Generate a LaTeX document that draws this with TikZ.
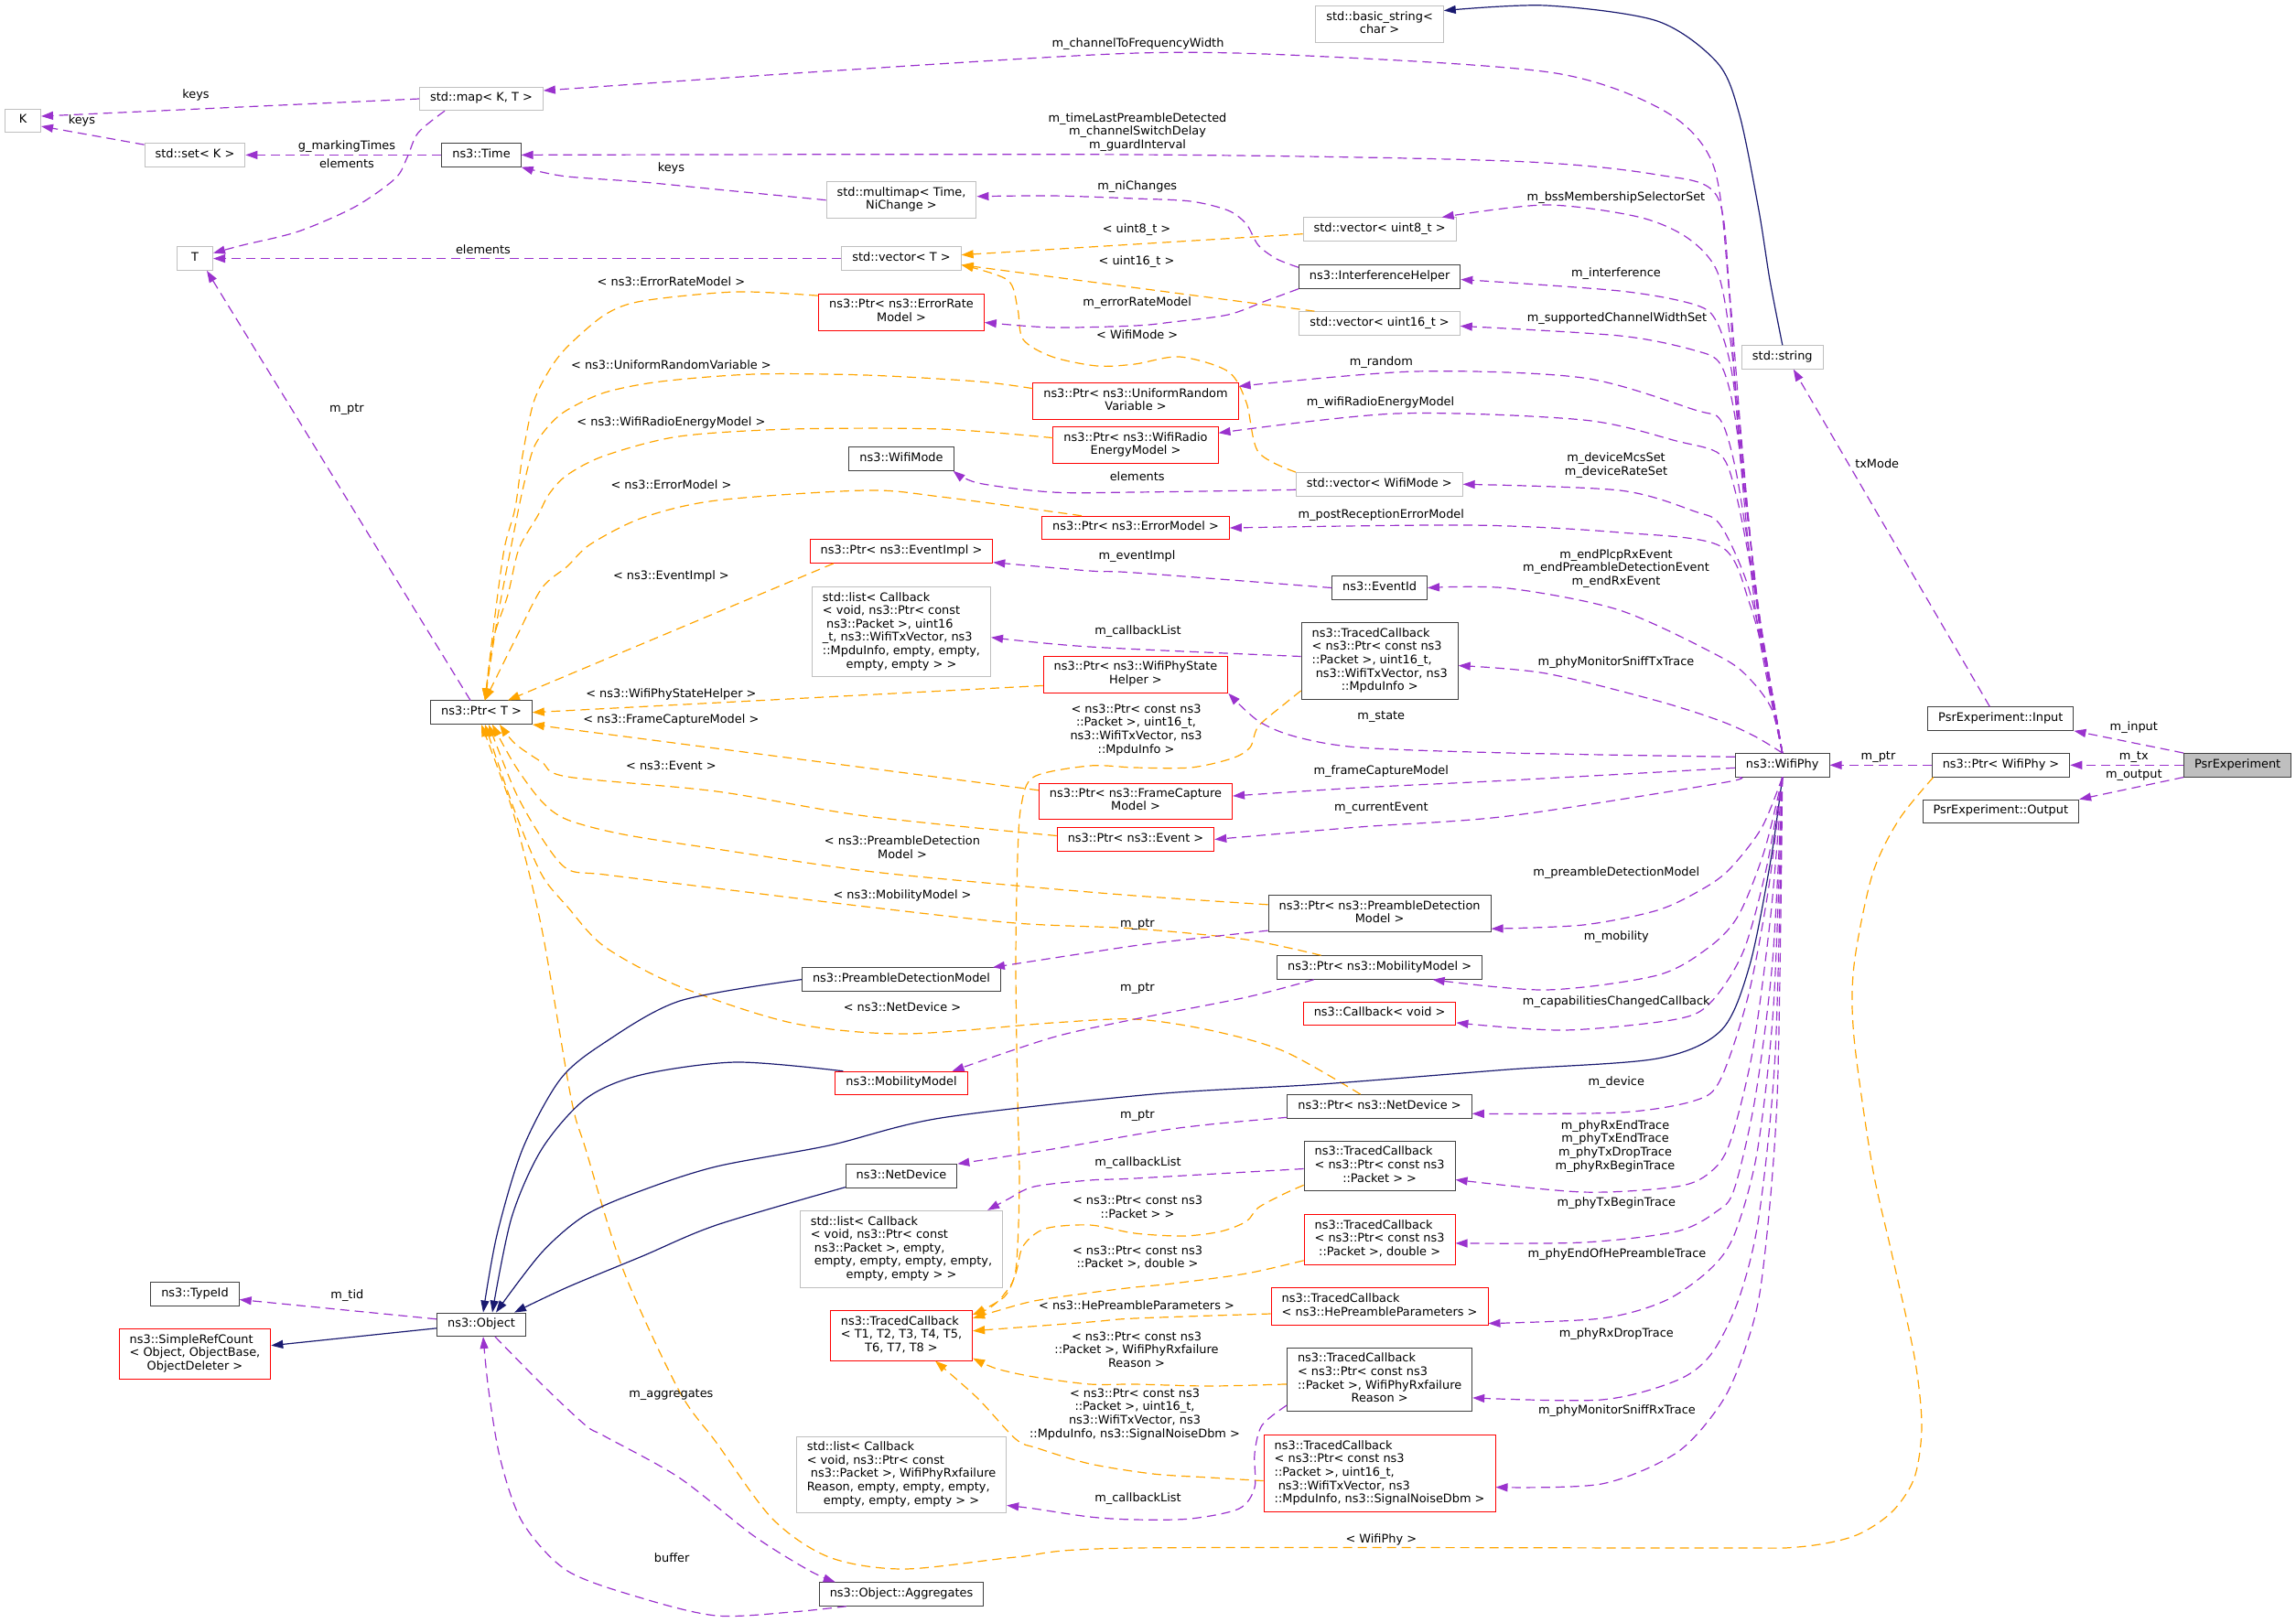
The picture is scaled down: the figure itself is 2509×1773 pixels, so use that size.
\documentclass[tikz,border=0pt]{standalone}
\usepackage{fontspec}
\setmainfont{DejaVu Sans}
\usetikzlibrary{arrows.meta}

\definecolor{usecol}{HTML}{9A32CD}
\definecolor{tplcol}{HTML}{FFA500}
\definecolor{inhcol}{HTML}{191970}
\definecolor{extcol}{HTML}{BFBFBF}
\definecolor{doccol}{HTML}{404040}

\newcommand{\dfont}{\fontsize{12.9}{14.6}\selectfont}
% left aligned lines, last line centred
\newcommand{\llines}[2]{\begin{tabular}{@{}l@{}}#1\\\multicolumn{1}{@{}c@{}}{#2}\end{tabular}}

\tikzset{
    cls/.style={draw=doccol, fill=white, line width=1pt, font=\dfont, align=center,
        inner xsep=11.5pt, inner ysep=5.45pt, minimum width=39pt,
        execute at begin node=\strut, execute at end node=\strut},
    doc/.style={cls},
    ext/.style={cls, draw=extcol},
    trunc/.style={cls, draw=red},
    focus/.style={cls, fill=extcol},
    memb/.style={draw=usecol, line width=1.2pt, dash pattern=on 10pt off 6pt,
        -{Triangle[length=13pt,width=9pt]}},
    tmpl/.style={memb, draw=tplcol},
    inh/.style={draw=inhcol, line width=1.2pt, -{Triangle[length=13pt,width=9pt]}},
    lbl/.style={font=\dfont, inner sep=0pt, align=center,
        execute at begin node=\strut, execute at end node=\strut},
}

\begin{document}
\begin{tikzpicture}[x=1pt, y=-1pt]
    \useasboundingbox (0,0) rectangle (2509,1773);

    % left column
    \node[ext] (kk) at (25,132) {K};
    \node[ext] (smap) at (526,108) {std::map< K, T >};
    \node[ext] (sset) at (213,169.4) {std::set< K >};
    \node[doc] (ntime) at (526,169.4) {ns3::Time};
    \node[ext] (tparam) at (213,282.6) {T};
    \node[doc] (ptrT) at (526,778.7) {ns3::Ptr< T >};
    \node[doc] (obj) at (526,1447.8) {ns3::Object};
    \node[doc] (tid) at (213,1414.5) {ns3::TypeId};
    \node[trunc] (src) at (213,1479.7) {\llines{ns3::SimpleRefCount\\< Object, ObjectBase,}{ObjectDeleter >}};

    % middle column
    \node[ext] (mmap) at (985,218.7) {std::multimap< Time,\\NiChange >};
    \node[ext] (vecT) at (985,282.6) {std::vector< T >};
    \node[trunc] (perr) at (985,341.4) {ns3::Ptr< ns3::ErrorRate\\Model >};
    \node[doc] (wmode) at (985,501.4) {ns3::WifiMode};
    \node[trunc] (pevi) at (985,602.7) {ns3::Ptr< ns3::EventImpl >};
    \node[ext] (lista) at (985,690.7) {\llines{std::list< Callback\\< void, ns3::Ptr< const\\\ ns3::Packet >, uint16\\\_t, ns3::WifiTxVector, ns3\\::MpduInfo, empty, empty,}{empty, empty > >}};
    \node[doc] (pdm) at (985,1070.6) {ns3::PreambleDetectionModel};
    \node[trunc] (mob) at (985,1184) {ns3::MobilityModel};
    \node[doc] (ndev) at (985,1285.4) {ns3::NetDevice};
    \node[ext] (listb) at (985,1365.3) {\llines{std::list< Callback\\< void, ns3::Ptr< const\\\ ns3::Packet >, empty,\\\ empty, empty, empty, empty,}{empty, empty > >}};
    \node[trunc] (tcT) at (985,1459.7) {\llines{ns3::TracedCallback\\< T1, T2, T3, T4, T5,}{T6, T7, T8 >}};
    \node[ext] (listc) at (985,1612) {\llines{std::list< Callback\\< void, ns3::Ptr< const\\\ ns3::Packet >, WifiPhyRxfailure\\Reason, empty, empty, empty,}{empty, empty, empty > >}};
    \node[doc] (agg) at (985,1742.5) {ns3::Object::Aggregates};

    \node[trunc] (prand) at (1241,438.6) {ns3::Ptr< ns3::UniformRandom\\Variable >};
    \node[trunc] (pradio) at (1241,486.6) {ns3::Ptr< ns3::WifiRadio\\EnergyModel >};
    \node[trunc] (perrm) at (1241,577) {ns3::Ptr< ns3::ErrorModel >};
    \node[trunc] (pstate) at (1241,737.4) {ns3::Ptr< ns3::WifiPhyState\\Helper >};
    \node[trunc] (pfc) at (1241,876) {ns3::Ptr< ns3::FrameCapture\\Model >};
    \node[trunc] (pev) at (1241,917.5) {ns3::Ptr< ns3::Event >};

    % members of WifiPhy
    \node[ext] (bstr) at (1507.6,26.6) {std::basic\_string<\\char >};
    \node[ext] (v8) at (1507.6,250.7) {std::vector< uint8\_t >};
    \node[doc] (ih) at (1507.6,302.5) {ns3::InterferenceHelper};
    \node[ext] (v16) at (1507.6,353.4) {std::vector< uint16\_t >};
    \node[ext] (vwm) at (1507.3,529.3) {std::vector< WifiMode >};
    \node[doc] (eid) at (1507.6,642.5) {ns3::EventId};
    \node[doc] (tc5) at (1507.7,722.5) {\llines{ns3::TracedCallback\\< ns3::Ptr< const ns3\\::Packet >, uint16\_t,\\\ ns3::WifiTxVector, ns3}{::MpduInfo >}};
    \node[doc] (ppd) at (1507.6,998.8) {ns3::Ptr< ns3::PreambleDetection\\Model >};
    \node[doc] (pmm) at (1507.6,1057.5) {ns3::Ptr< ns3::MobilityModel >};
    \node[trunc] (cb) at (1507.6,1107.9) {ns3::Callback< void >};
    \node[doc] (pnd) at (1507.6,1209.3) {ns3::Ptr< ns3::NetDevice >};
    \node[doc] (tc3) at (1507.6,1274.5) {\llines{ns3::TracedCallback\\< ns3::Ptr< const ns3}{::Packet > >}};
    \node[trunc] (tcd) at (1507.6,1354.9) {\llines{ns3::TracedCallback\\< ns3::Ptr< const ns3}{::Packet >, double >}};
    \node[trunc] (tchp) at (1507.6,1428) {\llines{ns3::TracedCallback}{< ns3::HePreambleParameters >}};
    \node[doc] (tcrx) at (1507.6,1507.9) {\llines{ns3::TracedCallback\\< ns3::Ptr< const ns3\\::Packet >, WifiPhyRxfailure}{Reason >}};
    \node[trunc] (tcsn) at (1507.6,1610.6) {\llines{ns3::TracedCallback\\< ns3::Ptr< const ns3\\::Packet >, uint16\_t,\\\ ns3::WifiTxVector, ns3}{::MpduInfo, ns3::SignalNoiseDbm >}};

    % right part
    \node[ext] (str) at (1947.8,390.4) {std::string};
    \node[doc] (wp) at (1947.7,836.3) {ns3::WifiPhy};
    \node[doc] (inp) at (2186.3,785.6) {PsrExperiment::Input};
    \node[doc] (pwp) at (2186.5,836.3) {ns3::Ptr< WifiPhy >};
    \node[doc] (pout) at (2186.3,886.9) {PsrExperiment::Output};
    \node[focus] (pe) at (2445.2,836.3) {PsrExperiment};

    % K, T and time
    \draw[memb] (smap.west) -- ([yshift=5pt]kk.east);
    \draw[memb] ([yshift=-2pt]sset.north west) -- ([yshift=-6pt]kk.east);
    \draw[memb] (ntime.west) -- (sset.east);
    \draw[memb] plot[smooth] coordinates {([xshift=-40pt]smap.south) (457,145) (445,172) (432,195) (388,226) (326,253) (265,268) ([yshift=6pt]tparam.east)};
    \draw[memb] (vecT.west) -- (tparam.east);
    \draw[memb] ([xshift=-12pt]ptrT.north) -- ([xshift=13pt]tparam.south);
    \draw[memb] plot[smooth] coordinates {(mmap.west) (783,207) (702,199) (620,193) (583,186) (ntime.south east)};

    % std::vector< T >
    \draw[tmpl] ([yshift=-5pt]v8.west) -- ([yshift=4pt]vecT.east);
    \draw[tmpl] ([xshift=17pt]v16.north west) -- ([yshift=-7pt]vecT.east);
    \draw[tmpl] plot[smooth] coordinates {(vwm.north west) (1375,494) (1362,440) (1342,406) (1289,390) (1240,398) (1199,400) (1150,390) (1118,371) (1112,337) (1101,306) ([yshift=-7pt]vecT.east)};

    % ns3::Ptr< T >
    \draw[tmpl] plot[smooth] coordinates {([yshift=-2pt]perr.north west) (804,319) (702,329) (661,344) (620,379) (600,405) (583,440) (571,498) (563,555) (551,600) (540,680) ([xshift=4pt]ptrT.north)};
    \draw[tmpl] plot[smooth] coordinates {([yshift=14pt]prand.west) (1069,417) (946,410) (824,409) (722,417) (661,429) (620,448) (600,465) (583,490) (571,536) (560,590) (543,679) ([xshift=4pt]ptrT.north)};
    \draw[tmpl] plot[smooth] coordinates {([yshift=8pt]pradio.west) (1028,469) (865,469) (742,477) (661,498) (620,519) (600,540) (588,563) (567,600) (555,650) (539,699) ([xshift=4pt]ptrT.north)};
    \draw[tmpl] plot[smooth] coordinates {([xshift=44pt]perrm.north west) (1028,543) (946,536) (783,547) (702,566) (645,595) (620,619) (592,643) (563,699) ([xshift=4pt]ptrT.north)};
    \draw[tmpl] ([xshift=26pt]pevi.south west) -- ([xshift=29pt]ptrT.north);
    \draw[tmpl] ([yshift=-12pt]pstate.west) -- (ptrT.east);
    \draw[tmpl] ([yshift=-8pt]pfc.north west) -- (ptrT.south east);
    \draw[tmpl] plot[smooth] coordinates {([yshift=4pt]pev.west) (946,892) (783,865) (620,849) (592,833) (563,813) ([xshift=20pt]ptrT.south)};
    \draw[tmpl] plot[smooth] coordinates {([yshift=10pt]ppd.west) (1240,979) (1110,968) (946,952) (783,928) (681,912) (620,896) (592,876) (563,837) ([xshift=12pt]ptrT.south)};
    \draw[tmpl] plot[smooth] coordinates {([xshift=-64pt]pmm.north) (1362,1027) (1240,1015) (1110,1009) (946,991) (783,971) (661,956) (620,950) (592,916) (563,865) ([xshift=8pt]ptrT.south)};
    \draw[tmpl] plot[smooth] coordinates {([xshift=-21pt]pnd.north) (1403,1149) (1322,1126) (1240,1114) (1150,1118) (987,1130) (865,1118) (742,1078) (661,1035) (620,991) (592,956) (563,888) ([xshift=4pt]ptrT.south)};
    \draw[tmpl] plot[smooth] coordinates {([xshift=2pt]pwp.south west) (2075,896) (2046,956) (2026,1055) (2026,1134) (2046,1275) (2067,1369) (2092,1483) (2100,1558) (2092,1615) (2067,1653) (2026,1679) (1964,1691) (1860,1692) (1240,1692) (1110,1702) (987,1715) (906,1702) (844,1660) (783,1577) (742,1520) (681,1388) (640,1256) (624,1200) (592,1015) (563,896) (543,837) (ptrT.south)};

    % ns3::TracedCallback< T1 ... T8 >
    \draw[tmpl] plot[smooth] coordinates {([yshift=10pt]tc5.south west) (1403,770) (1375,794) (1366,817) (1346,829) (1301,839) (1240,839) (1191,837) (1130,849) (1116,880) (1112,936) (1110,1055) (1112,1200) (1114,1294) (1110,1388) (1097,1415) (1081,1430) ([yshift=-5pt]tcT.north east)};
    \draw[tmpl] plot[smooth] coordinates {([yshift=7pt]tc3.south west) (1403,1305) (1375,1320) (1362,1335) (1334,1346) (1293,1351) (1240,1348) (1191,1339) (1142,1343) (1118,1362) (1110,1392) (1097,1418) ([yshift=-5pt]tcT.north east)};
    \draw[tmpl] plot[smooth] coordinates {([yshift=5pt]tcd.south west) (1362,1392) (1281,1403) (1240,1407) (1191,1413) (1130,1422) (1089,1433) ([yshift=-9pt]tcT.north east)};
    \draw[tmpl] plot[smooth] coordinates {([yshift=-8pt]tchp.west) (1240,1441) (1191,1445) ([yshift=5pt]tcT.east)};
    \draw[tmpl] plot[smooth] coordinates {([yshift=-5pt]tcrx.west) (1322,1515) (1240,1513) (1191,1513) (1130,1505) (1089,1496) ([yshift=3pt]tcT.south east)};
    \draw[tmpl] plot[smooth] coordinates {([yshift=-8pt]tcsn.west) (1322,1615) (1260,1611) (1191,1600) (1134,1583) (1110,1573) (1068,1528) ([xshift=37pt]tcT.south)};

    % other members in the middle
    \draw[memb] plot[smooth] coordinates {([yshift=-3pt]ih.north west) (1395,283) (1375,268) (1362,245) (1342,230) (1301,220) (1240,217) (1150,214) ([yshift=4pt]mmap.east)};
    \draw[memb] plot[smooth] coordinates {(ih.south west) (1383,329) (1342,344) (1281,352) (1240,356) (1150,358) ([yshift=-11pt]perr.east)};
    \draw[memb] plot[smooth] coordinates {([yshift=-6pt]vwm.west) (1240,538) (1150,538) (1069,528) ([xshift=-1pt]wmode.south east)};
    \draw[memb] plot[smooth] coordinates {(eid.west) (1240,626) (1191,624) ([yshift=-12pt]pevi.east)};
    \draw[memb] plot[smooth] coordinates {([yshift=5pt]tc5.west) (1191,707) ([yshift=-6pt]lista.east)};
    \draw[memb] plot[smooth] coordinates {([yshift=2pt]ppd.south west) (1260,1031) (1191,1041) ([xshift=-9pt]pdm.north east)};
    \draw[memb] plot[smooth] coordinates {([xshift=-72pt]pmm.south) (1362,1090) (1240,1114) (1150,1134) ([xshift=-17pt]mob.north east)};
    \draw[memb] plot[smooth] coordinates {([yshift=-12pt]pnd.west) (1322,1229) (1260,1237) (1150,1256) (ndev.north east)};
    \draw[memb] plot[smooth] coordinates {([yshift=-3pt]tc3.west) (1240,1288) (1191,1290) (1130,1297) (1101,1311) ([xshift=-17pt]listb.north east)};
    \draw[memb] plot[smooth] coordinates {([yshift=7pt]tcrx.south west) (1379,1558) (1371,1589) (1371,1626) (1354,1649) (1301,1660) (1240,1661) (1191,1658) (1130,1649) ([yshift=9pt]listc.south east)};

    % ns3::Object
    \draw[memb] ([yshift=6pt]obj.west) -- ([yshift=-6pt]tid.east);
    \draw[memb] plot[smooth] coordinates {([xshift=15pt]obj.south) (592,1513) (640,1558) (661,1570) (742,1615) (824,1679) (885,1717) ([xshift=18pt]agg.north west)};
    \draw[memb] plot[smooth] coordinates {([xshift=30pt]agg.south west) (865,1762) (783,1766) (702,1747) (620,1717) (571,1664) (547,1596) (534,1520) ([xshift=2pt]obj.south)};
    \draw[inh] ([yshift=-4pt]obj.west) -- ([yshift=9pt]src.east);
    \draw[inh] plot[smooth] coordinates {(pdm.west) (743,1094) (660,1140) (612,1180) (571,1256) (543,1350) ([xshift=2pt]obj.north)};
    \draw[inh] plot[smooth] coordinates {([xshift=9pt]mob.north west) (804,1161) (700,1175) (640,1201) (592,1256) (559,1331) ([xshift=12pt]obj.north)};
    \draw[inh] plot[smooth] coordinates {([yshift=1pt]ndev.south west) (783,1339) (702,1373) (620,1407) ([xshift=36pt]obj.north)};
    \draw[inh] plot[smooth] coordinates {(wp.south) (1935,940) (1912,1055) (1881,1126) (1811,1157) (1648,1169) (1444,1185) (1260,1196) (1028,1222) (906,1252) (783,1275) (702,1301) (640,1328) (592,1369) ([xshift=16pt]obj.north)};
    \draw[inh] plot[smooth] coordinates {(str.north) (1934,306) (1922,230) (1901,126) (1877,69) (1811,23) (1689,6) ([yshift=15pt]bstr.east)};

    % WifiPhy, upper members
    \draw[memb] plot[smooth] coordinates {(wp.north) (1920,680) (1900,480) (1888,300) (1872,180) (1820,122) (1700,80) (1450,62) (1243,58) (900,78) ([yshift=9pt]smap.east)};
    \draw[memb] plot[smooth] coordinates {(wp.north) (1922,680) (1903,480) (1890,320) (1876,214) (1811,191) (1648,176) (1240,169) (ntime.east)};
    \draw[memb] plot[smooth] coordinates {(wp.north) (1924,690) (1906,520) (1892,380) (1877,298) (1844,260) (1790,237) (1689,224) ([xshift=-16pt]v8.north east)};
    \draw[memb] plot[smooth] coordinates {(wp.north) (1926,700) (1907,540) (1893,410) (1876,352) (1852,333) (1770,318) ([yshift=-3pt]ih.east)};
    \draw[memb] plot[smooth] coordinates {(wp.north) (1927,705) (1909,560) (1895,450) (1880,398) (1852,383) (1770,367) ([yshift=-3pt]v16.east)};
    \draw[memb] plot[smooth] coordinates {(wp.north) (1929,712) (1911,600) (1896,510) (1880,459) (1852,448) (1730,413) (1546,406) ([yshift=-4pt]prand.north east)};
    \draw[memb] plot[smooth] coordinates {(wp.north) (1930,720) (1913,620) (1897,540) (1880,497) (1832,482) (1730,459) (1526,452) ([yshift=-7pt]pradio.north east)};
    \draw[memb] plot[smooth] coordinates {(wp.north) (1932,735) (1910,640) (1880,574) (1852,559) (1770,536) (vwm.east)};
    \draw[memb] plot[smooth] coordinates {(wp.north) (1934,745) (1912,660) (1880,597) (1770,582) (1607,574) (perrm.east)};
    \draw[memb] plot[smooth] coordinates {(wp.north) (1936,775) (1912,742) (1880,718) (1770,667) (1648,643) (eid.east)};
    \draw[memb] plot[smooth] coordinates {(wp.north) (1918,805) (1880,788) (1811,766) (1689,736) ([yshift=-5pt]tc5.east)};
    \draw[memb] plot[smooth] coordinates {([yshift=9pt]wp.west) (1648,823) (1485,817) (1415,805) (1375,788) (pstate.south east)};
    \draw[memb] plot[smooth] coordinates {([yshift=-3pt]wp.west) (1648,853) (1485,861) ([yshift=6pt]pfc.east)};
    \draw[memb] plot[smooth] coordinates {([xshift=5pt]wp.south west) (1880,856) (1648,892) (1485,904) (pev.east)};

    % WifiPhy, lower members
    \draw[memb] plot[smooth] coordinates {(wp.south) (1925,905) (1890,950) (1860,972) (1811,995) (1730,1011) ([yshift=4pt]ppd.south east)};
    \draw[memb] plot[smooth] coordinates {(wp.south) (1928,930) (1900,1000) (1868,1035) (1811,1066) (1689,1082) ([xshift=58pt]pmm.south)};
    \draw[memb] plot[smooth] coordinates {(wp.south) (1930,950) (1905,1040) (1870,1095) (1832,1114) (1709,1126) ([yshift=-10pt]cb.east)};
    \draw[memb] plot[smooth] coordinates {(wp.south) (1932,975) (1910,1090) (1880,1180) (1852,1203) (1770,1216) ([yshift=-8pt]pnd.east)};
    \draw[memb] plot[smooth] coordinates {(wp.south) (1935,1000) (1915,1150) (1890,1250) (1868,1282) (1832,1297) (1730,1303) ([yshift=-15pt]tc3.east)};
    \draw[memb] plot[smooth] coordinates {(wp.south) (1937,1050) (1918,1200) (1895,1300) (1876,1324) (1832,1346) (1730,1358) ([yshift=-4pt]tcd.east)};
    \draw[memb] plot[smooth] coordinates {(wp.south) (1938,1100) (1920,1260) (1895,1350) (1868,1388) (1819,1422) (1750,1441) ([yshift=2pt]tchp.south east)};
    \draw[memb] plot[smooth] coordinates {(wp.south) (1940,1150) (1922,1330) (1900,1420) (1870,1480) (1832,1509) (1750,1530) ([yshift=-20pt]tcrx.east)};
    \draw[memb] plot[smooth] coordinates {(wp.south) (1942,1200) (1925,1400) (1905,1480) (1880,1535) (1832,1588) (1750,1622) ([yshift=-15pt]tcsn.east)};

    % PsrExperiment
    \draw[memb] (pe.north west) -- (inp.south east);
    \draw[memb] (pe.west) -- (pwp.east);
    \draw[memb] (pe.south west) -- (pout.north east);
    \draw[memb] (pwp.west) -- (wp.east);
    \draw[memb] ([xshift=-12pt]inp.north) -- ([xshift=12pt]str.south);

    % edge labels
    \foreach \x/\y/\txt [count=\i] in {
        214/104.5/keys, 89.4/132.8/keys, 379/160.7/g\_markingTimes, 379/180.6/elements,
        528/274.4/elements, 379/447.8/m\_ptr, 733.4/184.5/keys,
        1243.5/48.6/m\_channelToFrequencyWidth,
        1243/145/{m\_timeLastPreambleDetected\\m\_channelSwitchDelay\\m\_guardInterval},
        1242.7/204.7/m\_niChanges, 1242/251.4/{< uint8\_t >}, 1242/287/{< uint16\_t >},
        1242.7/331.4/m\_errorRateModel, 1242.7/367.4/{< WifiMode >},
        733.4/310/{< ns3::ErrorRateModel >}, 733.4/400.3/{< ns3::UniformRandomVariable >},
        733.4/462.7/{< ns3::WifiRadioEnergyModel >}, 1242.7/522.4/elements,
        733.4/531.2/{< ns3::ErrorModel >}, 1242.5/608.5/m\_eventImpl,
        733.4/630.6/{< ns3::EventImpl >}, 1243.5/690.7/m\_callbackList,
        733.4/759.1/{< ns3::WifiPhyStateHelper >},
        1241.5/798.5/{< ns3::Ptr< const ns3\\::Packet >, uint16\_t,\\ns3::WifiTxVector, ns3\\::MpduInfo >},
        733.4/787.2/{< ns3::FrameCaptureModel >}, 733.4/838.6/{< ns3::Event >},
        986/928/{< ns3::PreambleDetection\\Model >}, 986/979.4/{< ns3::MobilityModel >},
        1243/1011/m\_ptr, 1243/1081/m\_ptr, 986/1102.7/{< ns3::NetDevice >}, 1243/1219.7/m\_ptr,
        1243.5/1271.5/m\_callbackList,
        1243/1321.6/{< ns3::Ptr< const ns3\\::Packet > >},
        1243/1376/{< ns3::Ptr< const ns3\\::Packet >, double >},
        1242/1428.5/{< ns3::HePreambleParameters >},
        1242/1477/{< ns3::Ptr< const ns3\\::Packet >, WifiPhyRxfailure\\Reason >},
        1240/1546.5/{< ns3::Ptr< const ns3\\::Packet >, uint16\_t,\\ns3::WifiTxVector, ns3\\::MpduInfo, ns3::SignalNoiseDbm >},
        1243.5/1638.8/m\_callbackList, 1509.3/1683.8/{< WifiPhy >},
        379.4/1416.4/m\_tid, 733.4/1525/m\_aggregates, 734.2/1704.2/buffer,
        1766/216.6/m\_bssMembershipSelectorSet, 1766/299.3/m\_interference,
        1767/348.6/m\_supportedChannelWidthSet, 1509.3/396.9/m\_random,
        1508.5/440.9/m\_wifiRadioEnergyModel, 1766/509.5/{m\_deviceMcsSet\\m\_deviceRateSet},
        1509.3/563.3/m\_postReceptionErrorModel,
        1766/622/{m\_endPlcpRxEvent\\m\_endPreambleDetectionEvent\\m\_endRxEvent},
        1766/724.7/m\_phyMonitorSniffTxTrace, 1509.3/783.6/m\_state,
        1509.3/844/m\_frameCaptureModel, 1509.3/883.7/m\_currentEvent,
        1766.3/954.4/m\_preambleDetectionModel, 1766.3/1024.8/m\_mobility,
        1766.3/1095.2/m\_capabilitiesChangedCallback, 1766.3/1183.8/m\_device,
        1765/1253.4/{m\_phyRxEndTrace\\m\_phyTxEndTrace\\m\_phyTxDropTrace\\m\_phyRxBeginTrace},
        1766.3/1315.4/m\_phyTxBeginTrace, 1767/1371.4/m\_phyEndOfHePreambleTrace,
        1766.3/1458.7/m\_phyRxDropTrace, 1767/1542.3/m\_phyMonitorSniffRxTrace,
        2052.5/827.9/m\_ptr, 2331.8/795.5/m\_input, 2331.8/828/m\_tx,
        2331.8/847.7/m\_output, 2051.2/509/txMode}
        \node[lbl] (lb\i) at (\x,\y) {\txt};

\end{tikzpicture}
\end{document}
